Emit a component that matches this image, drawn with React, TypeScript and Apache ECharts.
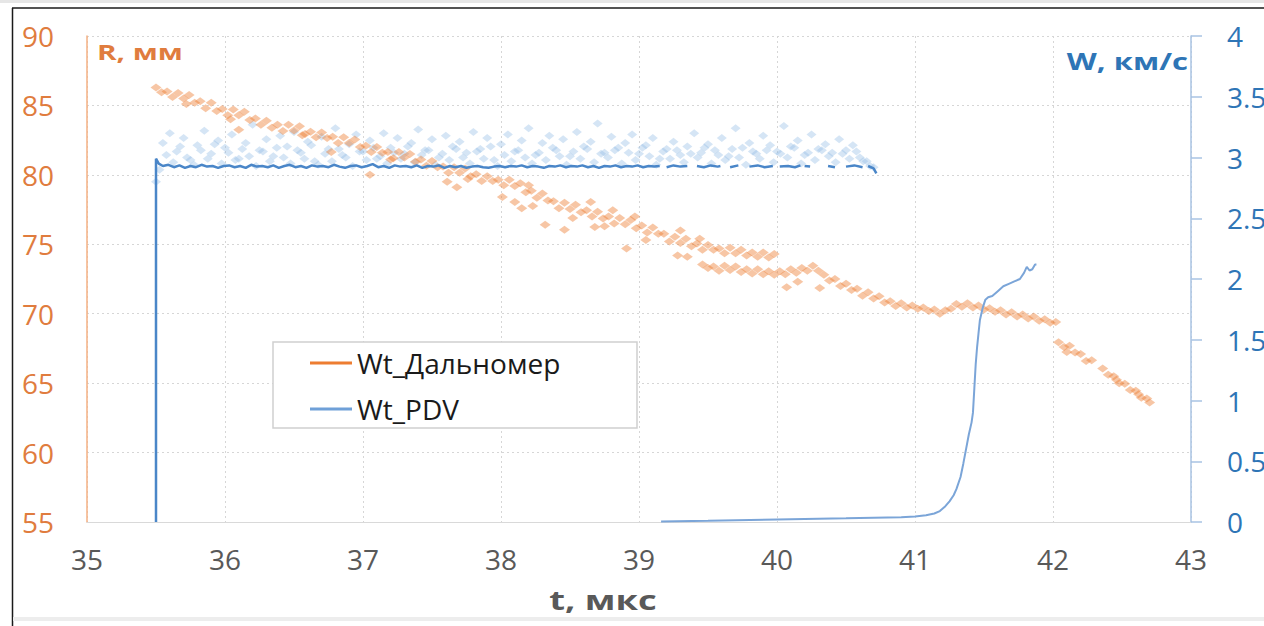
import React, { useEffect, useRef } from "react";
import * as echarts from "echarts";

// R (mm) from the range finder, t in microseconds
const rangefinderBand: [number, number][] = [
  [35.50,86.3],[35.54,85.95],[35.58,86.0],[35.62,85.6],[35.66,85.9],[35.70,85.5],[35.74,85.75],[35.78,85.2],[35.82,85.3],[35.86,84.8],
  [35.90,85.2],[35.94,84.6],[35.98,84.75],[36.02,84.3],[36.06,84.7],[36.10,84.3],[36.14,84.55],[36.18,83.95],[36.22,84.05],[36.26,83.6],
  [36.30,83.9],[36.34,83.4],[36.38,83.6],[36.42,83.15],[36.46,83.6],[36.50,83.2],[36.54,83.5],[36.58,82.95],[36.62,83.1],[36.66,82.7],
  [36.70,83.05],[36.74,82.65],[36.78,82.75],[36.82,82.3],[36.86,82.7],[36.90,82.3],[36.94,82.55],[36.98,82.0],[37.02,82.1],[37.06,81.65],
  [37.10,82.0],[37.14,81.6],[37.18,81.65],[37.22,81.2],[37.26,81.65],[37.30,81.25],[37.34,81.5],[37.38,80.95],[37.42,81.1],[37.46,80.65],
  [37.50,81.0],[37.54,80.55],[37.58,80.6],[37.62,80.15],[37.66,80.55],[37.70,80.15],[37.74,80.45],[37.78,79.9],[37.82,80.05],[37.86,79.55],
  [37.90,79.9],[37.94,79.55],[37.98,79.65],[38.02,79.25],[38.06,79.65],[38.10,79.2],[38.14,79.4],[38.18,78.75],[38.22,78.85],[38.26,78.35],
  [38.30,78.65],[38.34,78.15],[38.38,78.1],[38.42,77.6],[38.46,78.0],[38.50,77.55],[38.54,77.85],[38.58,77.3],[38.62,77.45],[38.66,77.0],
  [38.70,77.35],[38.74,76.85],[38.78,77.0],[38.82,76.5],[38.86,76.9],[38.90,76.45],[38.94,76.75],[38.98,76.15],[39.02,76.35],[39.06,75.85],
  [39.10,76.2],[39.14,75.75],[39.18,75.75],[39.22,75.2],[39.26,75.55],[39.30,75.1],[39.34,75.4],[39.38,74.85],[39.42,75.05],[39.46,74.6],
  [39.50,74.95],[39.54,74.6],[39.58,74.7],[39.62,74.35],[39.66,74.75],[39.70,74.35],[39.74,74.6],[39.78,74.2],[39.82,74.4],[39.86,74.1],
  [39.90,74.4],[39.94,74.05],[39.98,74.3],
  [39.46,73.55],[39.50,73.3],[39.54,73.4],[39.58,73.1],[39.62,73.45],[39.66,73.15],[39.70,73.4],[39.74,73.0],[39.78,73.2],[39.82,72.9],
  [39.86,73.2],[39.90,72.85],[39.94,73.05],[39.98,72.8],[40.02,73.05],[40.06,72.85],[40.10,73.2],[40.14,72.95],[40.18,73.3],[40.22,73.1],
  [40.26,73.45],[40.30,73.1],
  [40.34,72.8],[40.38,72.4],[40.42,72.5],[40.46,72.0],[40.50,72.15],[40.54,71.7],[40.58,71.8],[40.62,71.3],[40.66,71.55],[40.70,71.1],
  [40.74,71.25],[40.78,70.8],[40.82,70.9],[40.86,70.55],[40.90,70.75],[40.94,70.45],[40.98,70.6],[41.02,70.35],[41.06,70.45],[41.10,70.2],
  [41.14,70.3],[41.18,70.0],[41.22,70.25],[41.26,70.35],[41.30,70.7],[41.34,70.5],[41.38,70.75],[41.42,70.45],[41.46,70.6],[41.50,70.3],
  [41.54,70.4],[41.58,70.15],[41.62,70.25],[41.66,69.95],[41.70,70.1],[41.74,69.8],[41.78,69.95],[41.82,69.65],[41.86,69.8],[41.90,69.5],
  [41.94,69.6],[41.98,69.35],[42.02,69.4],
  [42.04,67.95],[42.08,67.6],[42.12,67.7],[42.16,67.2],[42.20,67.1],[42.24,66.6],[42.28,66.65],
  [42.36,66.05],[42.40,65.6],[42.44,65.5],[42.48,65.0],[42.52,64.95],[42.56,64.5],[42.60,64.45],[42.64,63.95],[42.68,63.9],[42.70,63.6],
];

const rangefinderOutliers: [number, number][] = [
  [36.10,83.25],[36.77,81.65],[37.05,80.0],[37.61,79.5],[37.68,79.1],[38.01,78.4],[38.10,78.05],[38.15,77.6],[38.23,77.75],
  [38.32,76.4],[38.46,76.05],[38.68,76.25],[38.91,74.7],[38.97,77.0],[39.28,74.2],[39.35,74.1],[40.07,71.9],[40.31,71.85],
  [40.15,72.3],[38.20,79.25],[38.65,78.05],[38.81,77.45],[39.30,76.0],[39.44,75.4],[38.52,76.9],[38.75,76.3],[39.05,75.3],
  [35.72,85.1],[36.04,84.0],[36.56,82.85],[37.20,81.1],[37.76,79.7],[42.10,67.25],[42.46,65.25],[42.62,64.2],
];

// W (km/s): raw PDV points
const pdvRaw: [number, number][] = [
  [35.50,2.80],[35.55,3.12],[35.60,3.20],[35.65,3.05],[35.70,3.16],[35.75,2.98],[35.80,3.10],[35.85,3.22],[35.90,3.03],[35.95,3.14],
  [36.00,3.08],[36.05,3.19],[36.10,2.99],[36.15,3.12],[36.20,3.27],[36.25,3.06],[36.30,3.15],[36.35,3.01],[36.40,3.18],[36.45,3.09],
  [36.50,3.21],[36.55,3.04],[36.60,3.13],[36.65,2.97],[36.70,3.17],[36.75,3.07],[36.80,3.24],[36.85,3.02],[36.90,3.11],[36.95,3.19],
  [37.00,3.05],[37.05,3.14],[37.10,2.99],[37.15,3.20],[37.20,3.08],[37.25,3.16],[37.30,3.03],[37.35,3.12],[37.40,3.23],[37.45,3.06],
  [37.50,3.15],[37.55,3.00],[37.60,3.18],[37.65,3.09],[37.70,3.13],[37.75,3.04],[37.80,3.21],[37.85,3.07],[37.90,3.16],[37.95,2.98],
  [38.00,3.11],[38.05,3.19],[38.10,3.05],[38.15,3.14],[38.20,3.24],[38.25,3.02],[38.30,3.12],[38.35,3.18],[38.40,3.06],[38.45,3.15],
  [38.50,3.01],[38.55,3.21],[38.60,3.09],[38.65,3.13],[38.70,3.28],[38.75,3.04],[38.80,3.17],[38.85,3.08],[38.90,3.12],[38.95,3.19],
  [39.00,3.03],[39.05,3.10],[39.10,3.16],[39.15,2.99],[39.20,3.07],[39.25,3.13],[39.30,3.02],[39.35,3.09],[39.40,3.20],[39.45,3.04],
  [39.50,3.11],[39.55,3.06],[39.60,3.16],[39.65,3.01],[39.70,3.24],[39.75,3.08],[39.80,3.12],[39.85,3.03],[39.90,3.18],[39.95,3.10],
  [40.00,3.05],[40.05,3.26],[40.10,3.09],[40.15,3.14],[40.20,3.02],[40.25,3.19],[40.30,3.07],[40.35,3.11],[40.40,3.04],[40.45,3.15],
  [40.50,3.06],[40.55,3.10],[40.60,3.00],[40.65,2.97],[40.70,2.92],
  [35.525,2.90],[35.575,3.02],[35.625,2.96],[35.675,3.09],[35.725,3.00],[35.775,2.94],[35.825,3.06],[35.875,2.99],[35.925,3.11],[35.975,2.95],
  [36.025,3.04],[36.075,2.98],[36.125,3.07],[36.175,3.01],[36.225,2.93],[36.275,3.05],[36.325,2.97],[36.375,3.08],[36.425,3.00],[36.475,2.95],
  [36.525,3.06],[36.575,2.99],[36.625,3.10],[36.675,2.94],[36.725,3.03],[36.775,2.97],[36.825,3.07],[36.875,3.00],[36.925,2.93],[36.975,3.05],
  [37.025,2.98],[37.075,3.08],[37.125,3.01],[37.175,2.95],[37.225,3.04],[37.275,2.99],[37.325,3.09],[37.375,2.96],[37.425,3.02],[37.475,3.06],
  [37.525,2.94],[37.575,3.03],[37.625,2.98],[37.675,3.07],[37.725,3.00],[37.775,2.95],[37.825,3.05],[37.875,2.99],[37.925,3.09],[37.975,2.93],
  [38.025,3.02],[38.075,2.97],[38.125,3.06],[38.175,3.00],[38.225,2.95],[38.275,3.04],[38.325,2.98],[38.375,3.08],[38.425,3.01],[38.475,2.94],
  [38.525,3.05],[38.575,2.99],[38.625,3.07],[38.675,2.96],[38.725,3.03],[38.775,3.00],[38.825,3.06],[38.875,2.95],[38.925,3.04],[38.975,2.98],
  [39.025,3.08],[39.075,3.01],[39.125,2.94],[39.175,3.05],[39.225,2.99],[39.275,3.06],[39.325,2.96],[39.375,3.03],[39.425,3.00],[39.475,3.08],
  [39.525,2.95],[39.575,3.02],[39.625,2.98],[39.675,3.07],[39.725,3.00],[39.775,2.94],[39.825,3.05],[39.875,2.99],[39.925,3.06],[39.975,2.96],
  [40.025,3.03],[40.075,3.00],[40.125,3.08],[40.175,2.95],[40.225,3.04],[40.275,2.98],[40.325,3.06],[40.375,3.01],[40.425,2.96],[40.475,3.03],
  [40.525,2.99],[40.575,3.05],[40.625,2.97],[40.675,2.93],
];

// W (km/s): processed PDV trace of the first probe ('-' = missing samples)
const pdvMain: [number, number | string][] = [
  [35.5,0],[35.5,2.99],[35.52,2.95],[35.55,2.93],[35.59,2.94],[35.63,2.92],[35.67,2.935],[35.71,2.915],[35.75,2.93],[35.79,2.92],
  [35.83,2.94],[35.87,2.925],[35.91,2.93],[35.95,2.915],[35.99,2.93],[36.03,2.935],[36.07,2.92],[36.11,2.93],[36.15,2.915],[36.19,2.94],
  [36.23,2.925],[36.27,2.93],[36.31,2.92],[36.35,2.935],[36.39,2.915],[36.43,2.93],[36.47,2.94],[36.51,2.92],[36.55,2.93],[36.59,2.915],
  [36.63,2.935],[36.67,2.925],[36.71,2.93],[36.75,2.92],[36.79,2.94],[36.83,2.925],[36.87,2.915],[36.91,2.93],[36.95,2.935],[36.99,2.92],
  [37.03,2.93],[37.07,2.945],[37.11,2.92],[37.15,2.93],[37.19,2.915],[37.23,2.935],[37.27,2.925],[37.31,2.93],[37.35,2.92],[37.39,2.935],
  [37.43,2.915],[37.47,2.93],[37.51,2.925],[37.55,2.935],[37.59,2.915],[37.63,2.93],[37.67,2.92],[37.71,2.93],[37.75,2.915],[37.79,2.925],
  [37.83,2.93],[37.87,2.92],[37.91,2.915],[37.95,2.925],[37.99,2.93],[38.03,2.92],[38.07,2.93],[38.11,2.925],[38.15,2.935],[38.19,2.92],
  [38.23,2.93],[38.27,2.925],[38.31,2.915],[38.35,2.93],[38.39,2.925],[38.43,2.935],[38.47,2.92],[38.51,2.93],[38.55,2.925],[38.59,2.935],
  [38.63,2.92],[38.67,2.93],[38.71,2.915],[38.75,2.93],[38.79,2.925],[38.83,2.935],[38.87,2.92],[38.91,2.93],[38.95,2.925],[38.99,2.935],
  [39.03,2.92],[39.07,2.93],[39.11,2.925],[39.15,2.93],[39.17,"-"],
  [39.20,2.92],[39.25,2.935],[39.30,2.925],[39.35,2.93],[39.37,"-"],
  [39.42,2.93],[39.47,2.92],[39.52,2.935],[39.57,2.925],[39.59,2.93],[39.62,"-"],
  [39.66,2.92],[39.72,2.935],[39.75,"-"],
  [39.80,2.925],[39.86,2.935],[39.91,2.92],[39.97,2.93],[39.99,"-"],
  [40.02,2.925],[40.08,2.93],[40.13,2.92],[40.17,2.935],[40.18,"-"],
  [40.20,2.93],[40.24,2.925],[40.30,"-"],
  [40.37,2.93],[40.42,2.92],[40.45,"-"],
  [40.50,2.925],[40.56,2.935],[40.62,2.92],[40.64,"-"],
  [40.66,2.93],[40.70,2.91],[40.72,2.87],
];

// W (km/s): Wt_PDV trace of the second probe
const pdvProbe: [number, number][] = [
  [39.16,0.005],[39.5,0.01],[40.0,0.02],[40.5,0.03],[40.9,0.04],[41.0,0.045],[41.08,0.055],[41.14,0.07],[41.18,0.09],[41.22,0.13],
  [41.25,0.17],[41.28,0.22],[41.30,0.27],[41.33,0.37],[41.35,0.48],[41.37,0.6],[41.39,0.72],[41.41,0.82],[41.42,0.9],[41.43,1.1],
  [41.44,1.3],[41.45,1.44],[41.46,1.55],[41.47,1.66],[41.49,1.76],[41.51,1.83],[41.53,1.85],[41.56,1.86],[41.60,1.9],[41.64,1.94],
  [41.68,1.96],[41.72,1.98],[41.76,2.0],[41.79,2.05],[41.81,2.1],[41.83,2.07],[41.85,2.08],[41.87,2.12],[41.88,2.12],
];

const xName = "t, мкс";
const leftName = "R, мм";
const rightName = "W, км/с";
const legendNames = ["Wt_Дальномер", "Wt_PDV"];

const ORANGE = "#ED7D31";
const ORANGE_TXT = "#E07C3E";
const BLUE_TXT = "#2E75B6";
const FONT = "'Open Sans', 'Noto Sans', sans-serif";

export default function App() {
  const ref = useRef<HTMLDivElement>(null);
  useEffect(() => {
    const chart = echarts.init(ref.current!, null, { renderer: "svg" });
    const gridLine = { show: true, lineStyle: { color: "#D6D6D6", width: 1, type: [2, 3] } };
    chart.setOption({
      animation: false,
      backgroundColor: "#ffffff",
      textStyle: { fontFamily: FONT },
      grid: { left: 87, right: 73, top: 36, bottom: 104, containLabel: false, outerBoundsMode: "none" },
      xAxis: {
        type: "value", min: 35, max: 43, interval: 1,
        axisLine: { show: true, onZero: false, lineStyle: { color: "#D9D9D9", width: 1 } },
        axisTick: { show: false },
        axisLabel: { fontSize: 28, color: "#595959", margin: 23, fontFamily: FONT, hideOverlap: false },
        splitLine: gridLine,
      },
      yAxis: [
        {
          type: "value", min: 55, max: 90, interval: 5, position: "left",
          axisLine: { show: true, lineStyle: { color: "#F4B183", width: 1.5 } },
          axisTick: { show: false },
          axisLabel: { fontSize: 28, color: ORANGE_TXT, margin: 33, fontFamily: FONT },
          splitLine: gridLine,
        },
        {
          type: "value", min: 0, max: 4, interval: 0.5, position: "right",
          axisLine: { show: true, lineStyle: { color: "#A9C3E3", width: 1.5 } },
          axisTick: { show: true, inside: false, length: 11, lineStyle: { color: "#A9C3E3", width: 1.5 } },
          axisLabel: { fontSize: 28, color: BLUE_TXT, margin: 36, align: "left", fontFamily: FONT, hideOverlap: false },
          splitLine: { show: false },
        },
      ],
      legend: {
        data: [
          { name: legendNames[0], itemStyle: { color: ORANGE, opacity: 1 } },
          { name: legendNames[1], itemStyle: { color: "#6FA0D8", opacity: 1 } },
        ],
        orient: "vertical", left: 310, top: 348, padding: 0, itemGap: 16,
        itemWidth: 42, itemHeight: 3, icon: "rect", z: 10,
        textStyle: { fontSize: 28, color: "#1a1a1a", fontFamily: FONT, lineHeight: 30 },
      },
      graphic: [
        { type: "rect", z: 0, shape: { x: 0, y: 0, width: 1264, height: 3 }, style: { fill: "#E6E6E6" } },
        { type: "line", z: 0, shape: { x1: 12, y1: 8, x2: 1264, y2: 8 }, style: { stroke: "#1a1a1a", lineWidth: 1.5 } },
        { type: "line", z: 0, shape: { x1: 12.5, y1: 8, x2: 12.5, y2: 626 }, style: { stroke: "#1a1a1a", lineWidth: 1.5 } },
        { type: "rect", z: 0, shape: { x: 13, y: 617, width: 1251, height: 4 }, style: { fill: "#EDEDED" } },
        { type: "rect", z: 5, shape: { x: 273, y: 342, width: 364, height: 86 }, style: { fill: "#ffffff", stroke: "#D0D0D0", lineWidth: 1.5 } },
        { type: "text", z: 5, x: 97, y: 52, scaleX: 1.35, style: { text: leftName, fill: ORANGE_TXT, fontSize: 22, fontWeight: "bold", fontFamily: FONT, align: "left", verticalAlign: "middle" } },
        { type: "text", z: 5, x: 1188, y: 61, scaleX: 1.35, style: { text: rightName, fill: BLUE_TXT, fontSize: 23, fontWeight: "bold", fontFamily: FONT, align: "right", verticalAlign: "middle" } },
        { type: "text", z: 5, x: 603, y: 600, scaleX: 1.4, style: { text: xName, fill: "#595959", fontSize: 26, fontWeight: "bold", fontFamily: FONT, align: "center", verticalAlign: "middle" } },
      ],
      series: [
        {
          name: "PDV_raw", type: "scatter", yAxisIndex: 1, symbol: "diamond", symbolSize: [10, 8], z: 2,
          itemStyle: { color: "rgba(150,190,230,0.5)" },
          data: pdvRaw,
        },
        {
          name: legendNames[0], type: "scatter", yAxisIndex: 0, symbol: "diamond", symbolSize: [11, 8], z: 3,
          itemStyle: { color: "rgba(237,125,49,0.55)" },
          data: [...rangefinderBand, ...rangefinderOutliers],
        },
        {
          name: "PDV_main", type: "line", yAxisIndex: 1, showSymbol: false, symbol: "none", z: 4,
          connectNulls: false,
          lineStyle: { color: "#4A86C8", width: 2.5 },
          itemStyle: { color: "#4A86C8" },
          data: pdvMain,
        },
        {
          name: legendNames[1], type: "line", yAxisIndex: 1, showSymbol: false, symbol: "none", z: 4,
          lineStyle: { color: "#7BA5D8", width: 2 },
          itemStyle: { color: "#7BA5D8" },
          data: pdvProbe,
        },
      ],
    });
    return () => chart.dispose();
  }, []);
  return (
    <div
      ref={ref}
      style={{ position: "absolute", left: 0, top: 0, width: 1264, height: 626, background: "#fff" }}
    />
  );
}
